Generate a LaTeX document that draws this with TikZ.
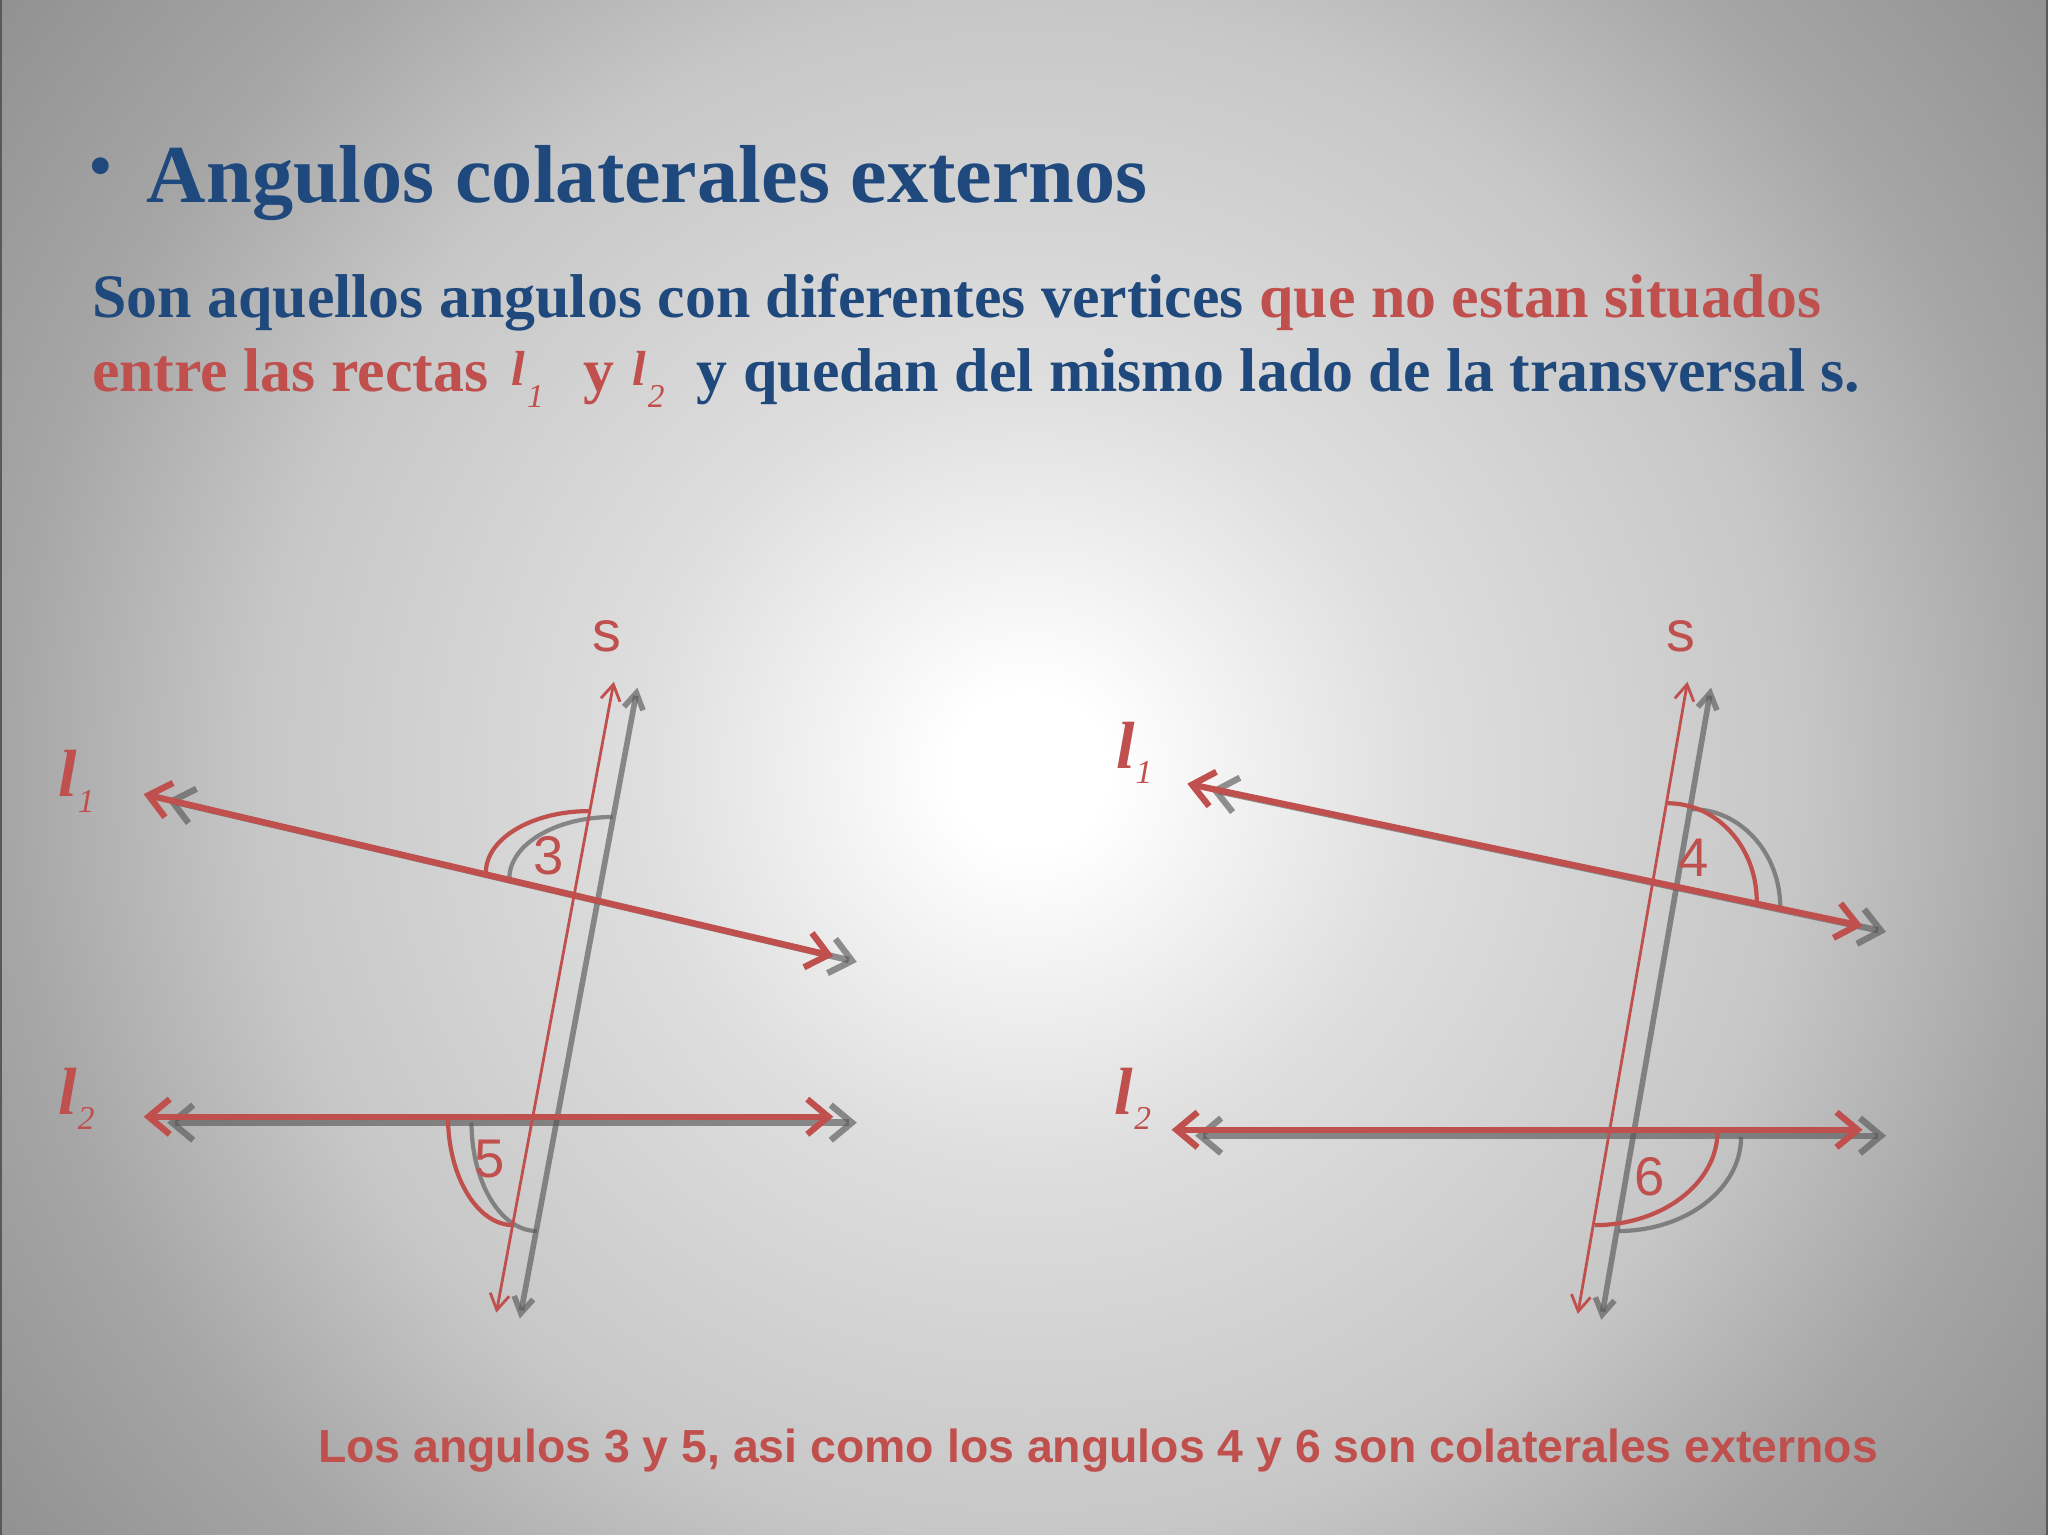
\documentclass[tikz,border=0pt]{standalone}
\usepackage{fontspec}
\setmainfont{Liberation Serif}
\setsansfont{Liberation Sans}
\usetikzlibrary{arrows.meta}
\definecolor{tblue}{HTML}{1F497D}
\definecolor{tred}{HTML}{C0504D}
\pgfdeclareradialshading{bgrad}{\pgfpoint{0bp}{0bp}}{color(0bp)=(white); color(1.5bp)=(white); color(7.5bp)=(black!13); color(14.7bp)=(black!22); color(19.6bp)=(black!35); color(24.5bp)=(black!43); color(50bp)=(black!45)}
% script-like l with subscript: text size and figure size
\newcommand\ellA[1]{{\fontsize{14}{14}\selectfont\bfseries\itshape l}\kern0.6pt\raisebox{-6.4pt}{\fontsize{9.5}{9.5}\selectfont\mdseries\itshape #1}}
\newcommand\ellB[1]{{\fontsize{19}{19}\selectfont\bfseries\itshape l}\kern0.3pt\raisebox{-4.5pt}{\fontsize{9.5}{9.5}\selectfont\mdseries\itshape #1}}
\tikzset{
  slw/.initial=0.8pt,
  lline/.style={line width=1.8pt, <->, >={Straight Barb[length=6pt,width=10pt]}},
  sline/.style={line width=\pgfkeysvalueof{/tikz/slw}, <->, >={Straight Barb[length=4.5pt,width=5.5pt]}},
  aline/.style={line width=1.2pt},
  body/.style={anchor=base west, inner sep=0pt, font=\fontsize{17.6}{21}\selectfont\bfseries},
  num/.style={text=tred, font=\sffamily\fontsize{15.5}{16}\selectfont, inner sep=0pt},
  slab/.style={text=tred, font=\sffamily\fontsize{16.4}{17}\selectfont, inner sep=0pt},
  lab/.style={anchor=base west, inner sep=0pt, text=tred},
  shadowfig/.style={color=black!65, opacity=0.65, slw=1.6pt},
  redfig/.style={color=tred},
  figL/.pic={
    \coordinate (-sT) at (470,522); \coordinate (-sB) at (380,1005);
    \coordinate (-aL) at (110,608); \coordinate (-aR) at (638,732);
    \coordinate (-bL) at (110,855); \coordinate (-bR) at (638,855);
    \draw[lline] (-aL) -- (-aR);
    \draw[lline] (-bL) -- (-bR);
    \draw[sline] (-sT) -- (-sB);
    \draw[aline] (372,668) .. controls (372,642.1) and (407.4,621) .. (451,621);
    \draw[aline] (343,855) .. controls (343,900.8) and (365.4,938) .. (393,938);
  },
  figR/.pic={
    \coordinate (-sT) at (1292,522); \coordinate (-sB) at (1208,1006);
    \coordinate (-aL) at (909,600); \coordinate (-aR) at (1426,709);
    \coordinate (-bL) at (897,865); \coordinate (-bR) at (1426,865);
    \draw[lline] (-aL) -- (-aR);
    \draw[lline] (-bL) -- (-bR);
    \draw[sline] (-sT) -- (-sB);
    \draw[aline] (1277,615) .. controls (1314.5,615) and (1345,648.6) .. (1345,690);
    \draw[aline] (1315,866) .. controls (1315,905.7) and (1272.9,938) .. (1221,938);
  }
}
\begin{document}
\begin{tikzpicture}[x=0.0130612cm, y=-0.0130612cm]
\useasboundingbox (0,0) rectangle (1568,1175);
\begin{scope}
  \clip (0,0) rectangle (1568,1175);
  \shade[shading=bgrad] (-212,-410) rectangle (1788,1590);
\end{scope}
\draw[black!65, line width=0.8pt] (0.6,0) -- (0.6,1175);
\draw[black!65, line width=0.8pt] (1567.4,0) -- (1567.4,1175);

% title
\node[text=tblue, font=\fontsize{20}{20}\selectfont, inner sep=0pt] (bul) at (77,133) {•};
\node[anchor=base west, inner sep=0pt, text=tblue, font=\fontsize{23.4}{28}\selectfont\bfseries] (title) at (112,155) {Angulos colaterales externos};

% body
\node[body, text=tblue] (b1) at (70,243) {Son aquellos angulos con diferentes vertices \textcolor{tred}{que no estan situados}};
\node[body, text=tred] (b2a) at (70,300) {entre las rectas};
\node[lab] (b2l1) at (391,295) {\ellA{1}};
\node[body, text=tred] (b2y) at (446,300) {y};
\node[lab] (b2l2) at (483.5,295) {\ellA{2}};
\node[body, text=tblue] (b2b) at (533,300) {y quedan del mismo lado de la transversal s.};

% figures: shadows then red
\pic[shadowfig] (shL) at (18,4.5) {figL};
\pic[shadowfig] (shR) at (18,4.5) {figR};
\pic[redfig] (L) at (0,0) {figL};
\pic[redfig] (R) at (0,0) {figR};

% labels left
\node[slab] (sL) at (465,487) {s};
\node[lab] (l1L) at (44,610) {\ellB{1}};
\node[lab] (l2L) at (44,853) {\ellB{2}};
\node[num] (n3) at (420,655) {3};
\node[num] (n5) at (375,887) {5};
% labels right
\node[slab] (sR) at (1287,487) {s};
\node[lab] (l1R) at (854,588) {\ellB{1}};
\node[lab] (l2R) at (853,853) {\ellB{2}};
\node[num] (n4) at (1297,657) {4};
\node[num] (n6) at (1263,901) {6};

% bottom
\node[anchor=base west, inner sep=0pt, text=tred, font=\sffamily\bfseries\fontsize{13.2}{16}\selectfont] (bottom) at (243,1120) {Los angulos 3 y 5, asi como los angulos 4 y 6 son colaterales externos};
\end{tikzpicture}
\end{document}
